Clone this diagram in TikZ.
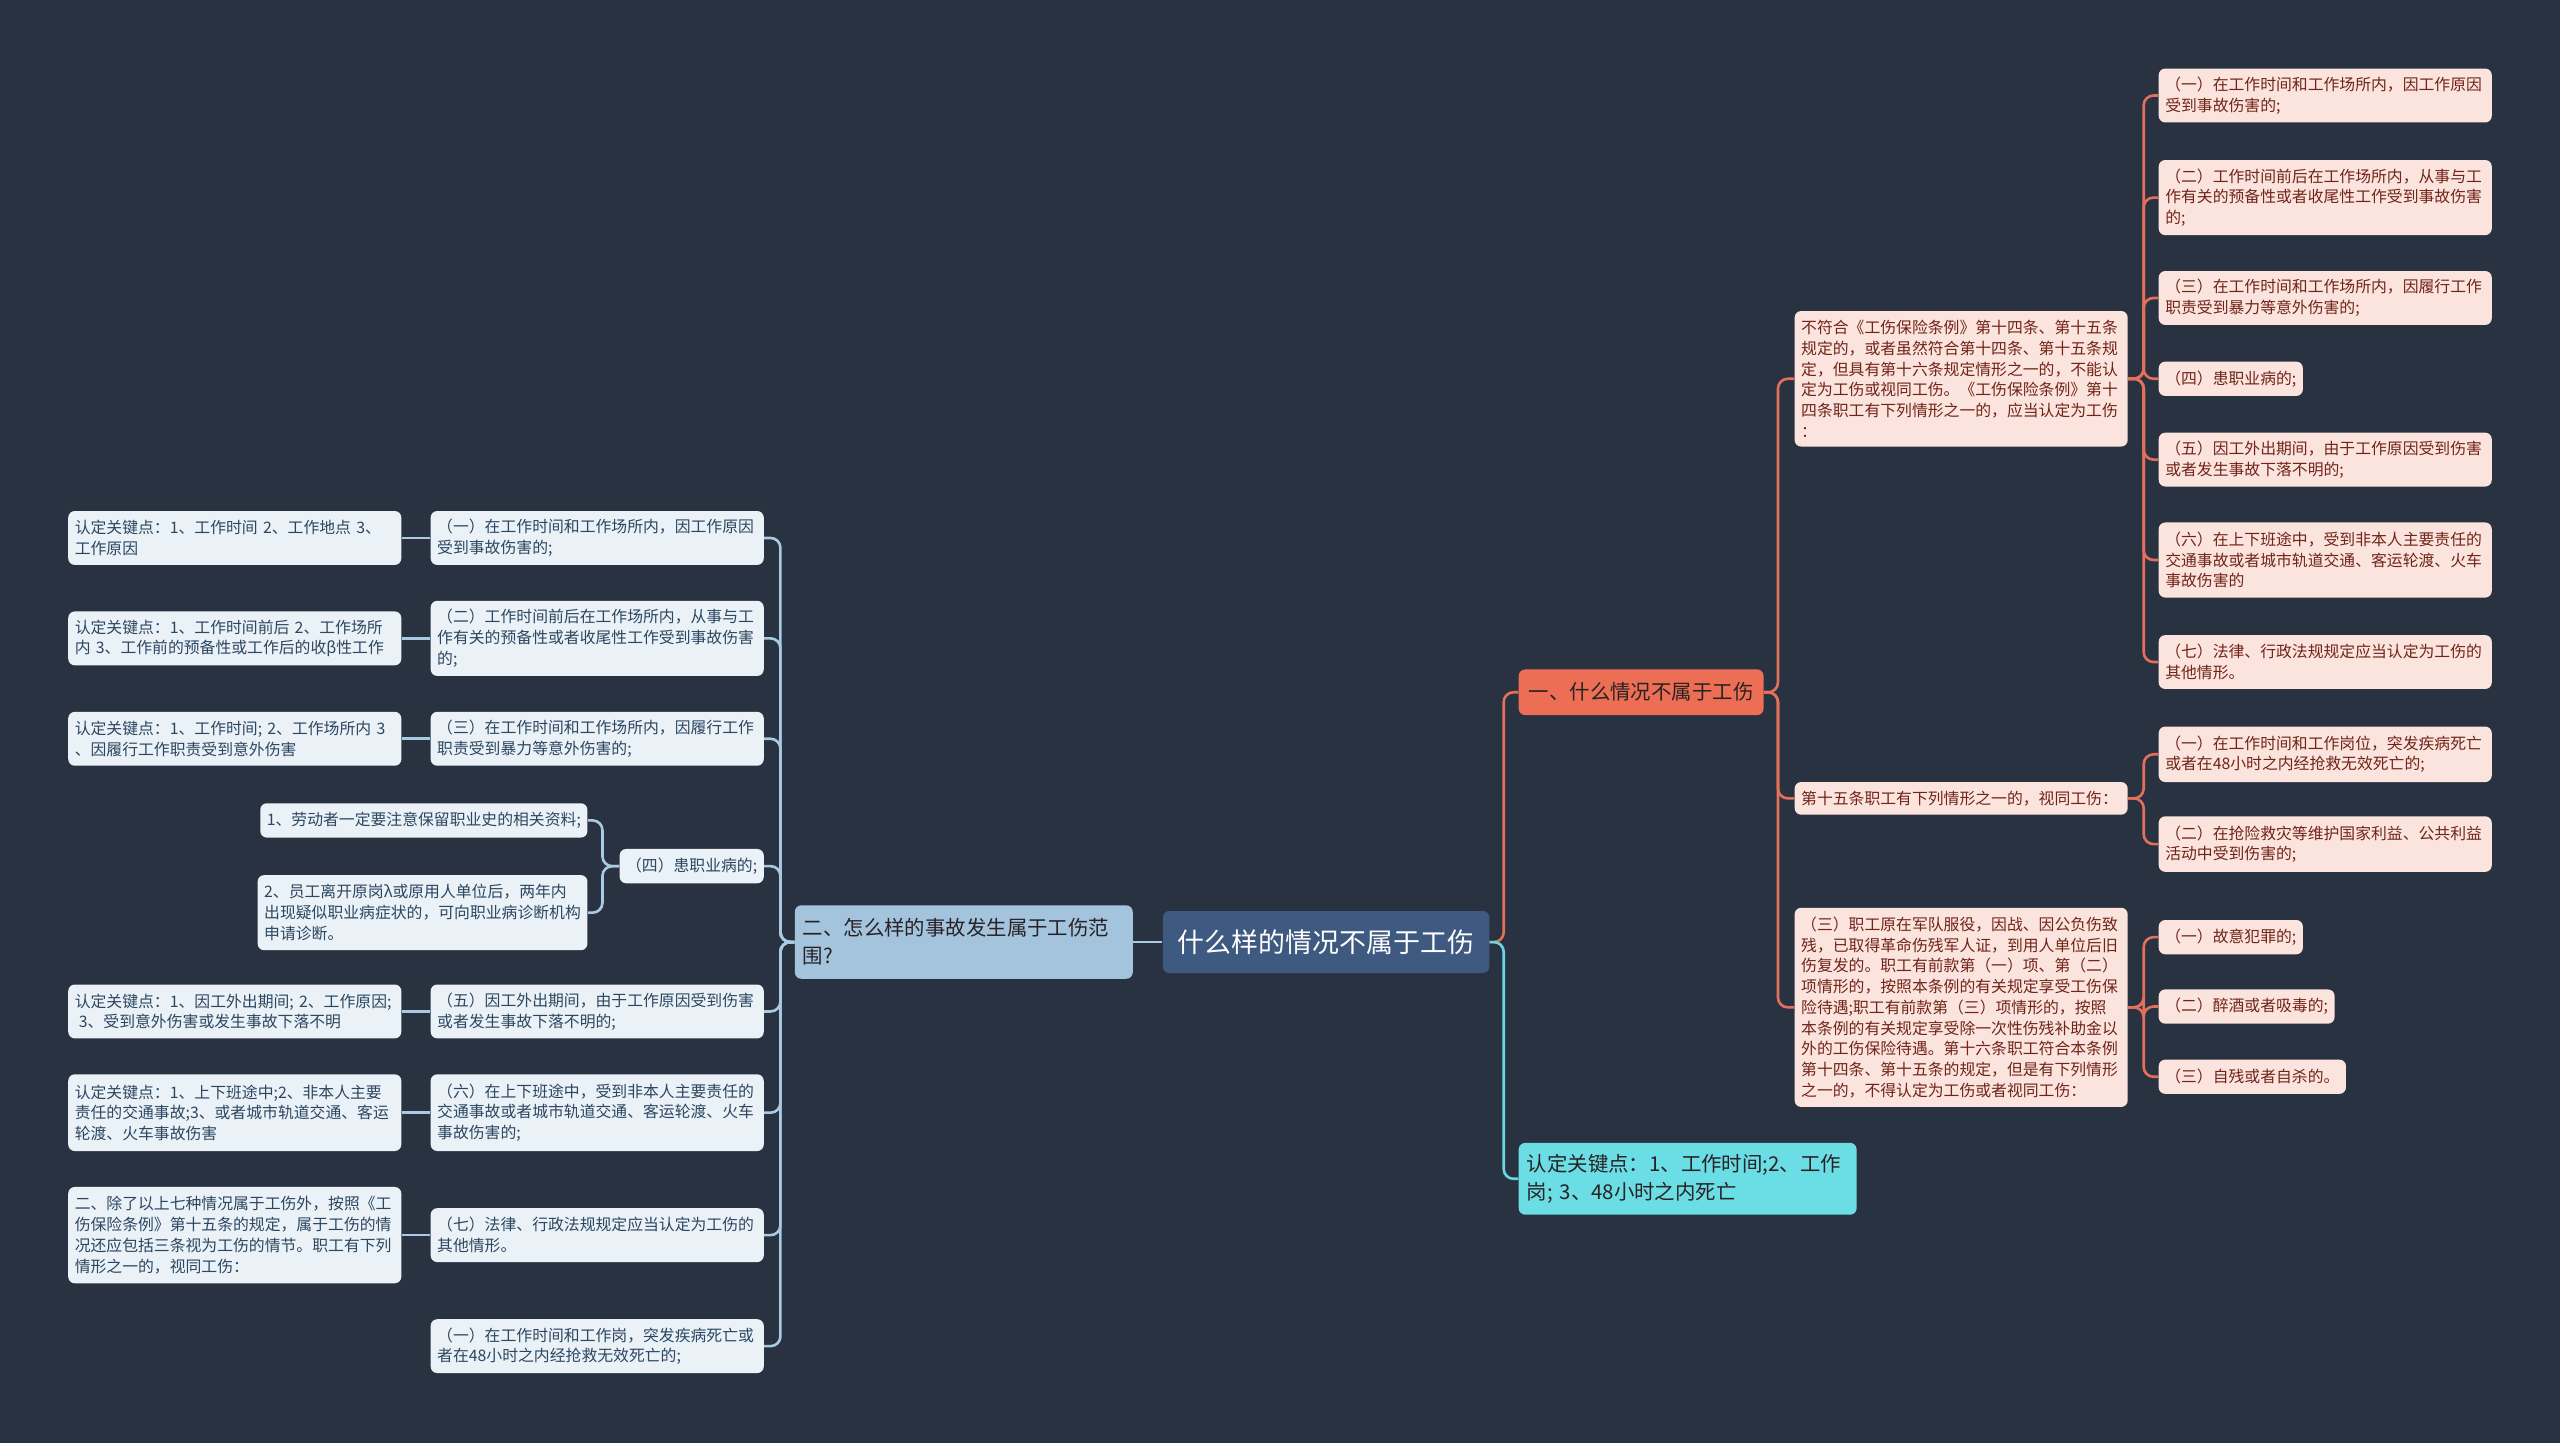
\documentclass[tikz,border=0pt]{standalone}
\usepackage{fontspec}
\newfontfamily\cjk{Noto Sans CJK SC}
\definecolor{bg}{RGB}{41,50,65}
\definecolor{rootfill}{RGB}{62,90,128}
\definecolor{orfill}{RGB}{236,110,84}
\definecolor{orline}{RGB}{226,112,90}
\definecolor{pinkfill}{RGB}{252,228,222}
\definecolor{pinktext}{RGB}{112,36,24}
\definecolor{cyanfill}{RGB}{106,222,228}
\definecolor{cyanline}{RGB}{106,214,224}
\definecolor{lbfill}{RGB}{164,196,222}
\definecolor{lfill}{RGB}{234,242,248}
\definecolor{ltext}{RGB}{44,70,96}
\definecolor{lline}{RGB}{168,202,226}
\definecolor{darktext}{RGB}{40,34,36}
\tikzset{
  small/.style={font=\cjk\fontsize{9.7}{12.7}\selectfont},
  big/.style={font=\cjk\fontsize{12.5}{17}\selectfont},
  rleaf/.style={small, rectangle, rounded corners=4pt, fill=pinkfill, text=pinktext, align=left, inner xsep=4pt, inner ysep=3pt, anchor=west},
  rwide/.style={rleaf, text width=196pt},
  lleaf/.style={small, rectangle, rounded corners=4pt, fill=lfill, text=ltext, align=left, inner xsep=4pt, inner ysep=3pt, anchor=east},
  lwide/.style={lleaf, text width=196pt},
  oc/.style={draw=orline, line width=1.6pt, rounded corners=6pt},
  lc/.style={draw=lline, line width=1.6pt, rounded corners=6pt},
  cc/.style={draw=cyanline, line width=1.6pt, rounded corners=6pt},
}
\begin{document}
\begin{tikzpicture}[x=1pt,y=-1pt]
\useasboundingbox (0,0) rectangle (1568,884);
\fill[bg] (0,0) rectangle (1568,884);

% root and main branches
\node[font=\cjk\fontsize{16.5}{20}\selectfont, fill=rootfill, text=white, rounded corners=4pt, minimum width=200pt, minimum height=38pt, anchor=west] (root) at (712,577) {什么样的情况不属于工伤};
\node[big, fill=orfill, text=darktext, rounded corners=4pt, minimum width=150pt, minimum height=28pt, anchor=west] (b1) at (930,424) {一、什么情况不属于工伤};
\node[big, fill=cyanfill, text=darktext, rounded corners=4pt, text width=197pt, align=left, inner xsep=5pt, minimum height=44pt, anchor=west] (b2) at (930,722) {认定关键点：1、工作时间;2、工作\\岗; 3、48小时之内死亡};
\node[big, fill=lbfill, text=darktext, rounded corners=4pt, text width=197pt, align=left, inner xsep=5pt, minimum height=45pt, anchor=east] (lb) at (694,577) {二、怎么样的事故发生属于工伤范\\围?};

% right second level
\node[rwide, minimum height=83pt] (A) at (1099,232) {不符合《工伤保险条例》第十四条、第十五条\\规定的，或者虽然符合第十四条、第十五条规\\定，但具有第十六条规定情形之一的，不能认\\定为工伤或视同工伤。《工伤保险条例》第十\\四条职工有下列情形之一的，应当认定为工伤\\：};
\node[rwide, minimum height=20pt] (B) at (1099,489) {第十五条职工有下列情形之一的，视同工伤：};
\node[rwide, minimum height=122pt] (C) at (1099,617) {（三）职工原在军队服役，因战、因公负伤致\\残，已取得革命伤残军人证，到用人单位后旧\\伤复发的。职工有前款第（一）项、第（二）\\项情形的，按照本条例的有关规定享受工伤保\\险待遇;职工有前款第（三）项情形的，按照\\本条例的有关规定享受除一次性伤残补助金以\\外的工伤保险待遇。第十六条职工符合本条例\\第十四条、第十五条的规定，但是有下列情形\\之一的，不得认定为工伤或者视同工伤：};

% right third level
\node[rwide, minimum height=33pt] (a1) at (1322,58.5) {（一）在工作时间和工作场所内，因工作原因\\受到事故伤害的;};
\node[rwide, minimum height=46pt] (a2) at (1322,121) {（二）工作时间前后在工作场所内，从事与工\\作有关的预备性或者收尾性工作受到事故伤害\\的;};
\node[rwide, minimum height=33pt] (a3) at (1322,182.5) {（三）在工作时间和工作场所内，因履行工作\\职责受到暴力等意外伤害的;};
\node[rleaf, minimum height=21pt] (a4) at (1322,232) {（四）患职业病的;};
\node[rwide, minimum height=33pt] (a5) at (1322,281.5) {（五）因工外出期间，由于工作原因受到伤害\\或者发生事故下落不明的;};
\node[rwide, minimum height=46pt] (a6) at (1322,343) {（六）在上下班途中，受到非本人主要责任的\\交通事故或者城市轨道交通、客运轮渡、火车\\事故伤害的};
\node[rwide, minimum height=33pt] (a7) at (1322,405.5) {（七）法律、行政法规规定应当认定为工伤的\\其他情形。};
\node[rwide, minimum height=34pt] (bb1) at (1322,462) {（一）在工作时间和工作岗位，突发疾病死亡\\或者在48小时之内经抢救无效死亡的;};
\node[rwide, minimum height=34pt] (bb2) at (1322,517) {（二）在抢险救灾等维护国家利益、公共利益\\活动中受到伤害的;};
\node[rleaf, minimum height=21pt] (c1) at (1322,574) {（一）故意犯罪的;};
\node[rleaf, minimum height=21pt] (c2) at (1322,616.5) {（二）醉酒或者吸毒的;};
\node[rleaf, minimum height=21pt] (c3) at (1322,659.5) {（三）自残或者自杀的。};

% left second level
\node[lwide, minimum height=33pt] (L1) at (468,329.5) {（一）在工作时间和工作场所内，因工作原因\\受到事故伤害的;};
\node[lwide, minimum height=46pt] (L2) at (468,391) {（二）工作时间前后在工作场所内，从事与工\\作有关的预备性或者收尾性工作受到事故伤害\\的;};
\node[lwide, minimum height=33pt] (L3) at (468,452.5) {（三）在工作时间和工作场所内，因履行工作\\职责受到暴力等意外伤害的;};
\node[lleaf, minimum height=21pt] (L4) at (468,530.5) {（四）患职业病的;};
\node[lwide, minimum height=33pt] (L5) at (468,619.5) {（五）因工外出期间，由于工作原因受到伤害\\或者发生事故下落不明的;};
\node[lwide, minimum height=47pt] (L6) at (468,681.5) {（六）在上下班途中，受到非本人主要责任的\\交通事故或者城市轨道交通、客运轮渡、火车\\事故伤害的;};
\node[lwide, minimum height=33pt] (L7) at (468,756.5) {（七）法律、行政法规规定应当认定为工伤的\\其他情形。};
\node[lwide, minimum height=33pt] (L8) at (468,824.5) {（一）在工作时间和工作岗，突发疾病死亡或\\者在48小时之内经抢救无效死亡的;};

% left third level
\node[lwide, minimum height=33pt] (K1) at (246,329.5) {认定关键点：1、工作时间 2、工作地点 3、\\工作原因};
\node[lwide, minimum height=33pt] (K2) at (246,391) {认定关键点：1、工作时间前后 2、工作场所\\内 3、工作前的预备性或工作后的收β性工作};
\node[lwide, minimum height=33pt] (K3) at (246,452.5) {认定关键点：1、工作时间; 2、工作场所内 3\\、因履行工作职责受到意外伤害};
\node[lleaf, minimum height=21pt] (K4a) at (360,502.5) {1、劳动者一定要注意保留职业史的相关资料;};
\node[lleaf, text width=194pt, minimum height=46pt] (K4b) at (360,559) {2、员工离开原岗λ或原用人单位后，两年内\\出现疑似职业病症状的，可向职业病诊断机构\\申请诊断。};
\node[lwide, minimum height=33pt] (K5) at (246,619.5) {认定关键点：1、因工外出期间; 2、工作原因;\\\hspace*{2.5pt}3、受到意外伤害或发生事故下落不明};
\node[lwide, minimum height=47pt] (K6) at (246,681.5) {认定关键点：1、上下班途中;2、非本人主要\\责任的交通事故;3、或者城市轨道交通、客运\\轮渡、火车事故伤害};
\node[lwide, minimum height=59pt] (K7) at (246,756.5) {二、除了以上七种情况属于工伤外，按照《工\\伤保险条例》第十五条的规定，属于工伤的情\\况还应包括三条视为工伤的情节。职工有下列\\情形之一的，视同工伤：};

% junction coordinates
\coordinate (jr) at (921,577);
\coordinate (j1) at (1089,424);
\coordinate (jA) at (1313,232);
\coordinate (jB) at (1313,489);
\coordinate (jC) at (1313,617);
\coordinate (jl) at (478,577);
\coordinate (j4) at (369,530.5);

% connectors
\draw[oc] (root.east) -- (jr) |- (b1.west);
\draw[cc] (root.east) -- (jr) |- (b2.west);
\draw[lc] (root.west) -- (lb.east);
\foreach \n in {A,B,C} \draw[oc] (b1.east) -- (j1) |- (\n.west);
\foreach \n in {a1,a2,a3,a4,a5,a6,a7} \draw[oc] (A.east) -- (jA) |- (\n.west);
\foreach \n in {bb1,bb2} \draw[oc] (B.east) -- (jB) |- (\n.west);
\foreach \n in {c1,c2,c3} \draw[oc] (C.east) -- (jC) |- (\n.west);
\foreach \n in {L1,L2,L3,L4,L5,L6,L7,L8} \draw[lc] (lb.west) -- (jl) |- (\n.east);
\draw[lc] (L1.west) -- (K1.east);
\draw[lc] (L2.west) -- (K2.east);
\draw[lc] (L3.west) -- (K3.east);
\draw[lc] (L5.west) -- (K5.east);
\draw[lc] (L6.west) -- (K6.east);
\draw[lc] (L7.west) -- (K7.east);
\foreach \n in {K4a,K4b} \draw[lc] (L4.west) -- (j4) |- (\n.east);
\end{tikzpicture}
\end{document}
